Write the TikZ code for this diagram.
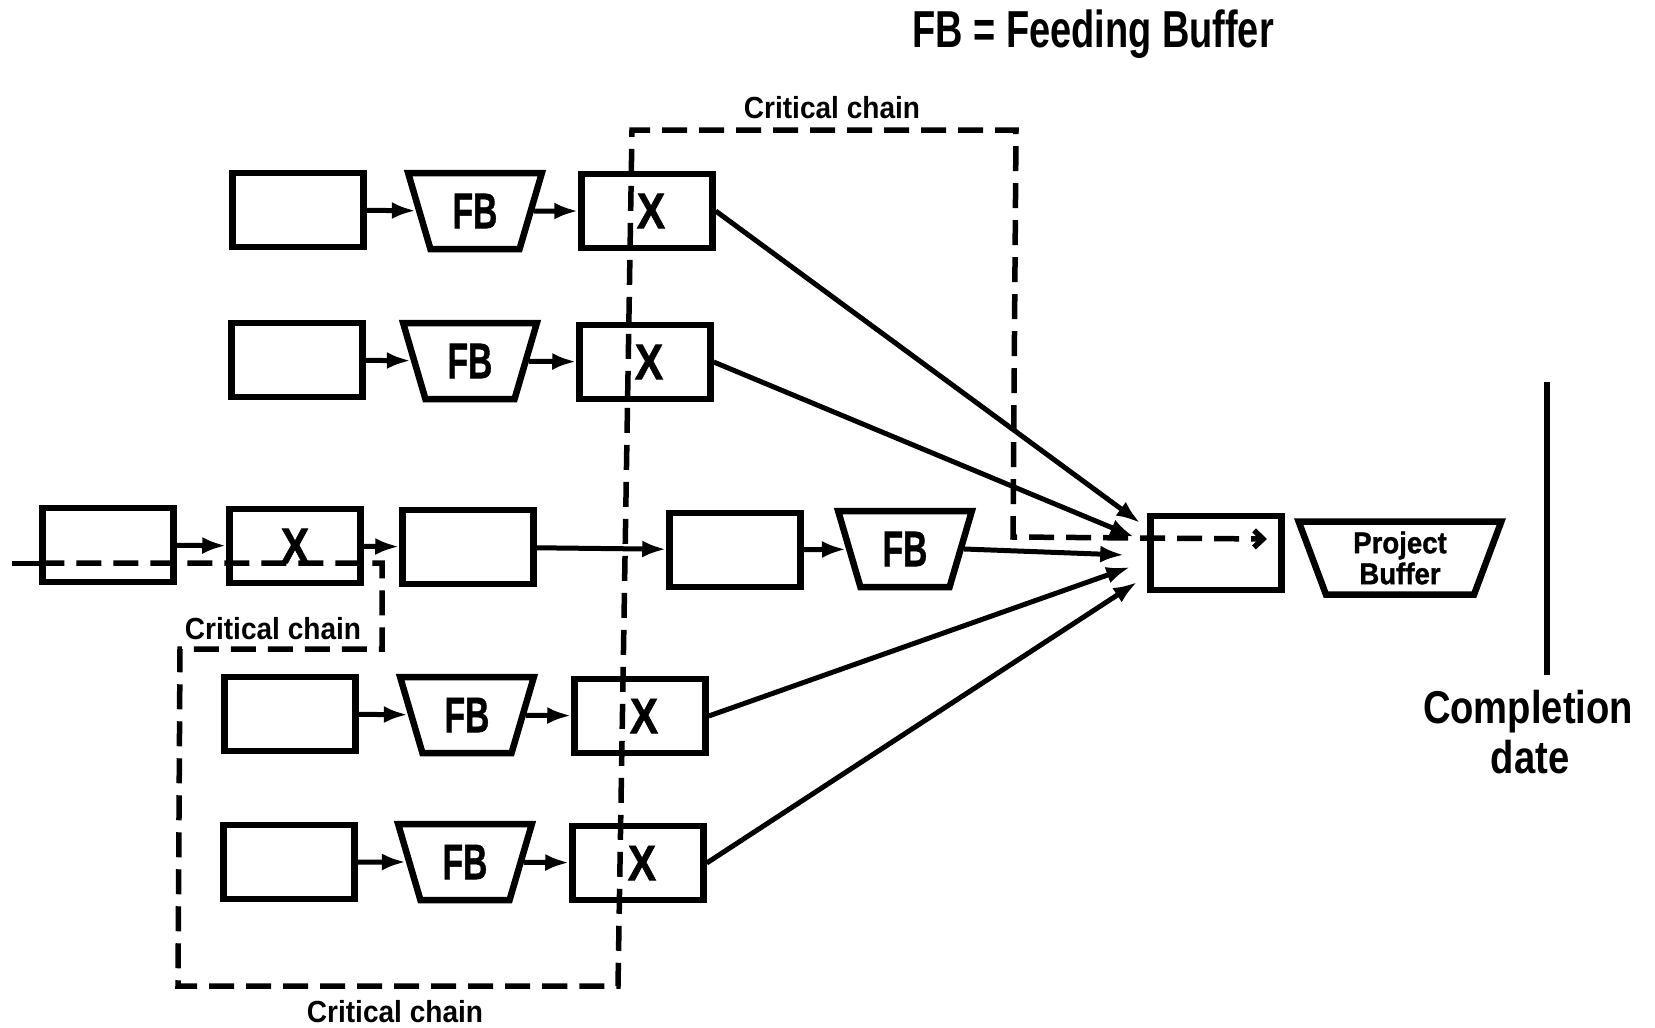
\documentclass[tikz,border=0pt]{standalone}
\usepackage{graphicx}
\usepackage{fontspec}
\setmainfont{Liberation Sans}
\newfontfamily\heavyfont[FakeBold=1.2]{Liberation Sans}
\usetikzlibrary{shapes.geometric,arrows.meta,calc}

\begin{document}
\begin{tikzpicture}[x=1pt,y=-1pt,
  task/.style={draw,line width=6.5pt,minimum width=131pt,minimum height=74pt,
    inner sep=0pt,font=\heavyfont\bfseries\fontsize{50}{50}\selectfont},
  fbuf/.style={draw,line width=6.5pt,trapezium,trapezium angle=72,
    trapezium stretches=true,shape border rotate=180,
    minimum width=134pt,minimum height=76pt,inner sep=0pt,
    font=\heavyfont\bfseries\fontsize{50}{50}\selectfont},
  flow/.style={line width=5pt,-{Latex[length=24pt,width=17pt]}},
  crit/.style={line width=5.5pt,dash pattern=on 25pt off 12pt},
  chainlbl/.style={anchor=base,font=\bfseries\fontsize{30.5}{34}\selectfont},
]
\path[fill=white,use as bounding box] (0,0) rectangle (1655,1028);

% feeding chains above the critical chain
\node[task] (t1) at (298,210) {};
\node[fbuf] (f1) at (475,211) {\scalebox{0.67}[1]{FB}};
\node[task] (x1) at (647,211) {\hspace{8pt}\scalebox{0.85}[1]{X}};

\node[task] (t2) at (297,360) {};
\node[fbuf] (f2) at (470,361) {\scalebox{0.67}[1]{FB}};
\node[task] (x2) at (645,362) {\hspace{8pt}\scalebox{0.85}[1]{X}};

% main chain
\node[task] (A) at (108,545) {};
\node[task] (B) at (295,546) {\scalebox{0.85}[1]{X}};
\node[task] (C) at (468,547) {};
\node[task] (D) at (735,550) {};
\node[fbuf] (f3) at (905,549) {\scalebox{0.67}[1]{FB}};
\node[task] (conv) at (1216,553) {};
\node[fbuf,minimum width=203pt,minimum height=73pt,align=center,
  font=\heavyfont\bfseries\fontsize{30}{31}\selectfont] (pb) at (1400,558)
  {\scalebox{0.92}[1]{Project}\\\scalebox{0.92}[1]{Buffer}};

% feeding chains below the critical chain
\node[task] (t4) at (290,714) {};
\node[fbuf] (f4) at (467,715) {\scalebox{0.67}[1]{FB}};
\node[task] (x4) at (640,716) {\hspace{8pt}\scalebox{0.85}[1]{X}};

\node[task] (t5) at (289,862) {};
\node[fbuf] (f5) at (465,862) {\scalebox{0.67}[1]{FB}};
\node[task] (x5) at (638,863) {\hspace{8pt}\scalebox{0.85}[1]{X}};

% arrows along each chain
\draw[flow] (t1) -- (f1);
\draw[flow] (f1) -- (x1);
\draw[flow] (t2) -- (f2);
\draw[flow] (f2) -- (x2);
\draw[flow] (t4) -- (f4);
\draw[flow] (f4) -- (x4);
\draw[flow] (t5) -- (f5);
\draw[flow] (f5) -- (x5);
\draw[flow] (A) -- (B);
\draw[flow] (B) -- (C);
\draw[flow] (C) -- (D);
\draw[flow] (D) -- (f3);

% merging into the final task
\draw[flow] (x1.east) -- ([shift={(-7,-30)}]conv.west);
\draw[flow] (x2.east) -- ([shift={(-13,-16)}]conv.west);
\draw[flow] (f3.east) -- ([shift={(-23,2)}]conv.west);
\draw[flow] (x4.east) -- ([shift={(-17,14)}]conv.west);
\draw[flow] (x5.east) -- ([shift={(-10,29)}]conv.west);

% critical chain route
\coordinate (in) at (12,563);
\coordinate (k1) at (382,563);
\coordinate (k2) at (382,649);
\coordinate (k3) at (180,649);
\coordinate (k4) at (178,986);
\coordinate (k5) at (618,986);
\coordinate (k6) at (632,130);
\coordinate (k7) at (1016,130);
\coordinate (k8) at (1013,537);
\coordinate (k9) at (1267,539);
\draw[line width=5pt] (in) -- (in -| A.west);
\draw[crit,-{Straight Barb[length=9pt,width=17pt]}]
  (in -| A.west) -- (k1) -- (k2) -- (k3) -- (k4) -- (k5) -- (k6) -- (k7) -- (k8) -- (k9);

% completion date marker
\coordinate (cdtop) at (1547,382);
\coordinate (cdbot) at (1547,675);
\draw[line width=6.5pt] (cdtop) -- (cdbot);

% labels
\node[anchor=base,font=\bfseries\fontsize{52}{56}\selectfont] (legend) at (1093,47)
  {\scalebox{0.73}[1]{FB = Feeding Buffer}};
\node[chainlbl] (cctop) at (832,118) {\scalebox{0.92}[1]{Critical chain}};
\node[chainlbl] (ccmid) at (273,639) {\scalebox{0.92}[1]{Critical chain}};
\node[chainlbl] (ccbot) at (395,1022) {\scalebox{0.92}[1]{Critical chain}};
\node[anchor=base,font=\bfseries\fontsize{46}{50}\selectfont] (compl) at (1528,723)
  {\scalebox{0.83}[1]{Completion}};
\node[anchor=base,font=\bfseries\fontsize{46}{50}\selectfont] (cdate) at (1530,773)
  {\scalebox{0.83}[1]{date}};
\end{tikzpicture}
\end{document}
